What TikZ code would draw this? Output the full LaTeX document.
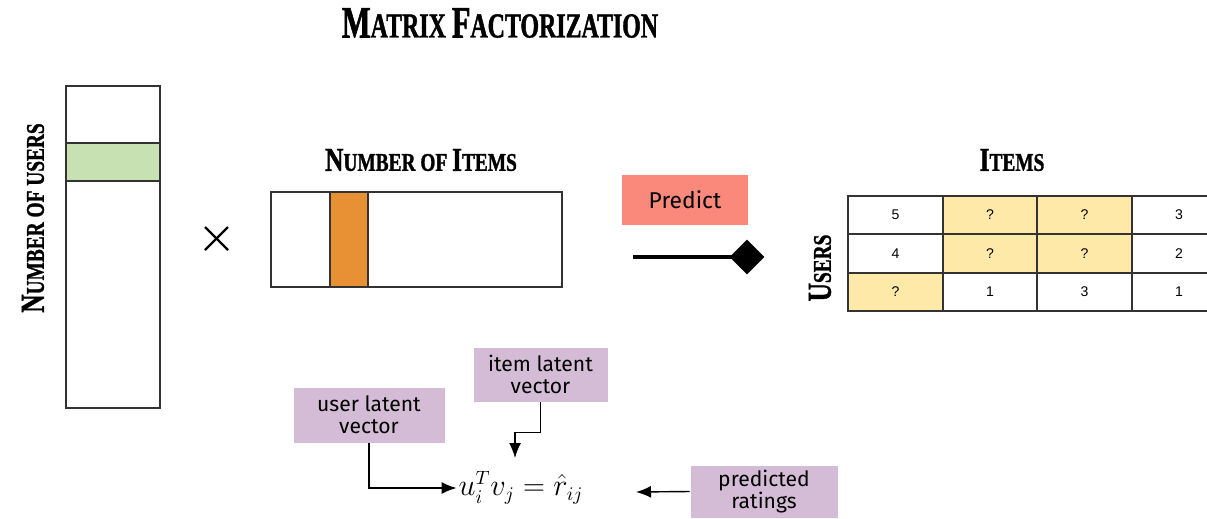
\documentclass[tikz,border=0pt]{standalone}
\usepackage{fontspec}
\usepackage{amsmath}
\usetikzlibrary{shapes.geometric, arrows.meta}

\newfontfamily\titlefont[FakeStretch=0.68,FakeBold=1.2]{Liberation Serif Bold}
\newfontfamily\headfont[FakeStretch=0.76,FakeBold=1.2]{Liberation Serif Bold}
\newfontfamily\boxfont{Fira Sans}
\newfontfamily\cellfont{Liberation Sans}

\definecolor{usergreen}{RGB}{199,225,178}
\definecolor{itemorange}{RGB}{231,145,52}
\definecolor{predsalmon}{RGB}{250,137,123}
\definecolor{askyellow}{RGB}{255,233,168}
\definecolor{notepurple}{RGB}{212,188,214}

% Kapitaelchen von Hand
\newcommand{\grossbuchst}[2]{{\fontsize{#2}{#2}\selectfont #1}}

\tikzset{
  cellbox/.style={draw=black!80, line width=1.1pt, minimum width=1.89cm, minimum height=0.77cm, inner sep=0pt, font=\cellfont\fontsize{8}{9}\selectfont},
  askcell/.style={cellbox, fill=askyellow},
  notebox/.style={fill=notepurple, draw=white, inner sep=0pt, align=center, font=\boxfont\fontsize{12}{12.5}\selectfont},
  headline/.style={font=\headfont\fontsize{14.5}{14.5}\selectfont},
  zeiger/.style={-{Latex[length=0.3cm, width=0.24cm]}, line width=0.8pt}
}

\begin{document}
\begin{tikzpicture}[x=0.02cm, y=-0.02cm]
\useasboundingbox (0,0) rectangle (1207,518);
\clip (0,0) rectangle (1207,518);

	% Ueberschrift
	\node[font=\titlefont\fontsize{20}{20}\selectfont] (titel) at (500,23) {\grossbuchst{M}{25.5}ATRIX \grossbuchst{F}{25.5}ACTORIZATION};

	% Nutzer-Matrix mit gruener Zeile
	\fill[usergreen] (66,143) rectangle (160,181);
	\draw[line width=0.9pt, black!80] (66,86) rectangle (160,408);
	\draw[line width=0.9pt, black!80] (66,143) -- (160,143);
	\draw[line width=0.9pt, black!80] (66,181) -- (160,181);
	\node[headline, rotate=90] (usersAchse) at (33,218) {\grossbuchst{N}{19}UMBER OF USERS};

	% Malzeichen
	\draw[line width=1.4pt] (205,227) -- (228,250);
	\draw[line width=1.4pt] (205,250) -- (228,227);

	% Item-Matrix mit oranger Spalte
	\fill[itemorange] (330,192) rectangle (368,287);
	\draw[line width=0.9pt, black!80] (271,192) rectangle (562,287);
	\draw[line width=0.9pt, black!80] (330,192) -- (330,287);
	\draw[line width=0.9pt, black!80] (368,192) -- (368,287);
	\node[headline] (itemsAchse) at (421,160) {\grossbuchst{N}{19}UMBER OF \grossbuchst{I}{19}TEMS};

	% Predict-Kasten und Pfeil mit Raute
	\node[fill=predsalmon, minimum width=2.52cm, minimum height=1cm, font=\boxfont\fontsize{13}{13}\selectfont] (predict) at (685,200) {Predict};
	\coordinate (pfeilstart) at (633,257);
	\node[diamond, fill=black, minimum size=0.7cm, inner sep=0pt] (raute) at (747,257) {};
	\draw[line width=2.8pt] (pfeilstart) -- (raute.center);

	% Bewertungstabelle
	\node[headline] (itemsKopf) at (1012,160) {\grossbuchst{I}{19}TEMS};
	\node[headline, rotate=90] (usersKopf) at (820,268) {\grossbuchst{U}{19}SERS};

	\node[cellbox] (r1c1) at (895.5,215) {5};
	\node[askcell] (r1c2) at (990,215) {?};
	\node[askcell] (r1c3) at (1084.5,215) {?};
	\node[cellbox] (r1c4) at (1179,215) {3};

	\node[cellbox] (r2c1) at (895.5,253.5) {4};
	\node[askcell] (r2c2) at (990,253.5) {?};
	\node[askcell] (r2c3) at (1084.5,253.5) {?};
	\node[cellbox] (r2c4) at (1179,253.5) {2};

	\node[askcell] (r3c1) at (895.5,292) {?};
	\node[cellbox] (r3c2) at (990,292) {1};
	\node[cellbox] (r3c3) at (1084.5,292) {3};
	\node[cellbox] (r3c4) at (1179,292) {1};

	% Formel
	\node[font=\fontsize{16}{18}\selectfont, inner sep=1pt] (formel) at (521,488) {$u_i^T v_j = \hat{r}_{ij}$};
	\coordinate (vj) at (515,458);
	\coordinate (rdach) at (636,492);

	% Erklaerkaesten
	\node[notebox, minimum width=3.04cm, minimum height=1.12cm] (userVek) at (369,415) {user latent\\vector};
	\node[notebox, minimum width=2.7cm, minimum height=1.1cm] (itemVek) at (540.5,374.5) {item latent\\vector};
	\node[notebox, minimum width=2.96cm, minimum height=1.06cm] (bewertung) at (764,491.5) {predicted\\ratings};

	% Pfeile zur Formel
	\draw[zeiger] (userVek.south) |- (formel.west);
	\draw[zeiger] (itemVek.south) -- ++(0,30) -| (vj);
	\draw[zeiger] (bewertung.west) -- (rdach);

\end{tikzpicture}
\end{document}
